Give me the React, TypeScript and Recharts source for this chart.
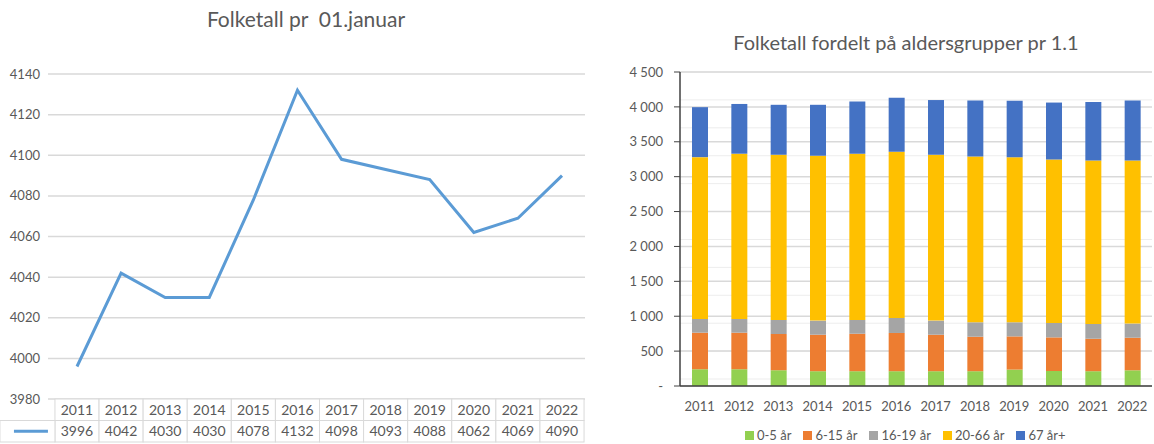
import React from "react"
import {
  LineChart, Line, BarChart, Bar, XAxis, YAxis, CartesianGrid,
} from "recharts"

const years = ["2011", "2012", "2013", "2014", "2015", "2016", "2017", "2018", "2019", "2020", "2021", "2022"]
const folketall = [3996, 4042, 4030, 4030, 4078, 4132, 4098, 4093, 4088, 4062, 4069, 4090]

const age0_5 = [240, 240, 226, 212, 212, 212, 212, 212, 235, 215, 212, 225]
const age6_15 = [524, 524, 519, 523, 537, 548, 523, 494, 476, 482, 465, 467]
const age16_19 = [197, 197, 202, 202, 198, 215, 202, 207, 202, 206, 212, 202]
const age20_66 = [2319, 2368, 2367, 2363, 2382, 2382, 2377, 2377, 2367, 2343, 2343, 2338]
const age67 = [716, 713, 716, 730, 749, 775, 784, 803, 808, 816, 837, 858]

const lineTicks = [3980, 4000, 4020, 4040, 4060, 4080, 4100, 4120, 4140]
const barTicks = [0, 500, 1000, 1500, 2000, 2500, 3000, 3500, 4000, 4500]
const minorTicks = Array.from({ length: 46 }, (_, i) => i * 100)

const groups = [
  { key: "a", name: "0-5 år", color: "#92D050", values: age0_5 },
  { key: "b", name: "6-15 år", color: "#ED7D31", values: age6_15 },
  { key: "c", name: "16-19 år", color: "#A5A5A5", values: age16_19 },
  { key: "d", name: "20-66 år", color: "#FFC000", values: age20_66 },
  { key: "e", name: "67 år+", color: "#4472C4", values: age67 },
]

const lineData = years.map((y, i) => ({ year: y, value: folketall[i] }))
const barData = years.map((y, i) => {
  const row: any = { year: y }
  groups.forEach((g) => (row[g.key] = g.values[i]))
  return row
})

const FONT = "Lato, 'Open Sans', sans-serif"
const TEXT = "#595959"
const LINE = "#5B9BD5"
const COL_W = 44.1
const ROW_H = 21.5
const LEGEND_W = 55

// data table under the line chart, one column per x tick
const TableTick = ({ x, y, payload }: any) => {
  const i = payload.index
  const left = x - COL_W / 2
  return (
    <g>
      <rect x={left} y={y} width={COL_W} height={ROW_H} fill="#fff" stroke="#D9D9D9" />
      <rect x={left} y={y + ROW_H} width={COL_W} height={ROW_H} fill="#fff" stroke="#D9D9D9" />
      <text x={x} y={y + ROW_H / 2 + 5} textAnchor="middle" fontSize={14} fill={TEXT} fontFamily={FONT}>
        {payload.value}
      </text>
      <text x={x} y={y + ROW_H * 1.5 + 5} textAnchor="middle" fontSize={14} fill={TEXT} fontFamily={FONT}>
        {folketall[i]}
      </text>
      {i === 0 && (
        <g>
          <rect x={left - LEGEND_W} y={y + ROW_H} width={LEGEND_W} height={ROW_H} fill="#fff" stroke="#D9D9D9" />
          <line x1={left - LEGEND_W + 14} x2={left - 7} y1={y + ROW_H * 1.5} y2={y + ROW_H * 1.5} stroke={LINE} strokeWidth={3} />
        </g>
      )}
    </g>
  )
}

function fmtNo(v: number) {
  if (v === 0) return "-"
  return String(v).replace(/\B(?=(\d{3})+(?!\d))/g, " ")
}

export default function App() {
  return (
    <div style={{ position: "absolute", left: 0, top: 0, width: 1154, height: 444, background: "#fff", overflow: "hidden", fontFamily: FONT }}>
      <div style={{ position: "absolute", left: 0, top: 6, width: 612, textAlign: "center", fontSize: 21, lineHeight: "26px", color: TEXT, whiteSpace: "pre" }}>
        {"Folketall pr  01.januar"}
      </div>
      <div style={{ position: "absolute", left: 0, top: 0 }}>
        <LineChart width={600} height={444} data={lineData} margin={{ top: 74, right: 15, bottom: 0, left: 0 }}>
          <CartesianGrid vertical={false} stroke="#D9D9D9" strokeWidth={1.5} />
          <XAxis
            dataKey="year"
            height={45}
            axisLine={false}
            tickLine={false}
            tickSize={0}
            tickMargin={0}
            interval={0}
            padding={{ left: 29, right: 23 }}
            tick={<TableTick />}
          />
          <YAxis
            domain={[3980, 4140]}
            ticks={lineTicks}
            width={48}
            axisLine={false}
            tickLine={false}
            tick={{ fontSize: 13, fill: TEXT, fontFamily: FONT }}
          />
          <Line type="linear" dataKey="value" stroke={LINE} strokeWidth={3} dot={false} isAnimationActive={false} />
        </LineChart>
      </div>

      <div style={{ position: "absolute", left: 620, top: 30, width: 572, textAlign: "center", fontSize: 20, lineHeight: "24px", color: TEXT, whiteSpace: "nowrap" }}>
        Folketall fordelt på aldersgrupper pr 1.1
      </div>
      <div style={{ position: "absolute", left: 620, top: 0 }}>
        <BarChart width={534} height={444} data={barData} margin={{ top: 72, right: 2, bottom: 0, left: 0 }} barSize={16}>
          <CartesianGrid vertical={false} horizontalValues={minorTicks} stroke="#EDEDED" strokeWidth={1} />
          <CartesianGrid vertical={false} stroke="#D9D9D9" strokeWidth={1.5} />
          <XAxis
            dataKey="year"
            height={58}
            tickLine={false}
            axisLine={{ stroke: "#404040", strokeWidth: 1.5 }}
            tickMargin={10}
            interval={0}
            tick={{ fontSize: 13, fill: TEXT, fontFamily: FONT }}
          />
          <YAxis
            domain={[0, 4500]}
            ticks={barTicks}
            width={60}
            axisLine={{ stroke: "#404040", strokeWidth: 1.5 }}
            tickLine={{ stroke: "#404040" }}
            tickSize={6}
            tickMargin={11}
            tickFormatter={fmtNo}
            tick={{ fontSize: 13, fill: TEXT, fontFamily: FONT }}
          />
          {groups.map((g) => (
            <Bar key={g.key} dataKey={g.key} name={g.name} stackId="s" fill={g.color} isAnimationActive={false} />
          ))}
        </BarChart>
      </div>
      <div style={{ position: "absolute", left: 745, top: 427, display: "flex", gap: 12, fontSize: 13, color: TEXT, whiteSpace: "nowrap" }}>
        {groups.map((g) => (
          <span key={g.key} style={{ display: "flex", alignItems: "center", gap: 3 }}>
            <span style={{ width: 9, height: 9, background: g.color, display: "inline-block" }} />
            {g.name}
          </span>
        ))}
      </div>
    </div>
  )
}
